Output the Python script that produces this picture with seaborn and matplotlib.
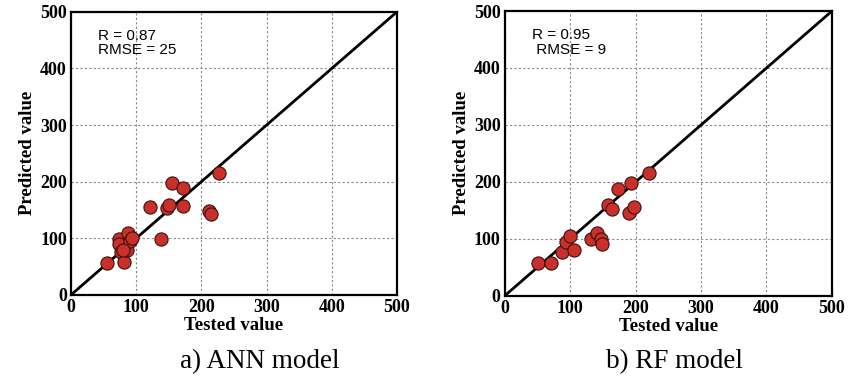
import numpy as np
import pandas as pd
import matplotlib
matplotlib.use("Agg")
import matplotlib.pyplot as plt
import seaborn as sns

# ANN model: tested vs predicted
ann_tested = [55, 73, 74, 76, 82, 86, 88, 90, 94, 80, 121, 138, 148, 150, 155, 172, 172, 211, 215, 227]
ann_pred = [57, 98, 90, 76, 58, 79, 110, 96, 101, 80, 155, 99, 153, 159, 198, 188, 157, 149, 143, 216]

# RF model
rf_tested = [50, 70, 88, 94, 99, 106, 131, 141, 147, 148, 158, 164, 173, 190, 197, 193, 220]
rf_pred = [57, 58, 76, 95, 105, 80, 99, 110, 99, 91, 159, 152, 188, 145, 156, 198, 216]

panels = [
    ("a) ANN model", "R = 0.87\nRMSE = 25", ann_tested, ann_pred),
    ("b) RF model", "R = 0.95\n RMSE = 9", rf_tested, rf_pred),
]
ticks = [0, 100, 200, 300, 400, 500]

sns.set_style("white")
plt.rcParams["font.family"] = ["Liberation Serif", "DejaVu Serif"]
plt.rcParams["text.color"] = "black"
plt.rcParams["axes.labelcolor"] = "black"
plt.rcParams["xtick.color"] = "black"
plt.rcParams["ytick.color"] = "black"

fig = plt.figure(figsize=(8.5, 3.82), dpi=100)
positions = [[0.0835, 0.228, 0.3835, 0.741], [0.594, 0.226, 0.3847, 0.745]]
caption_x = [260 / 850, 674 / 850]

for i, (caption, stats, tested, pred) in enumerate(panels):
    ax = fig.add_axes(positions[i])
    df = pd.DataFrame({"Tested value": tested, "Predicted value": pred})
    ax.plot([0, 500], [0, 500], color="black", lw=2, zorder=2)
    sns.scatterplot(data=df, x="Tested value", y="Predicted value", ax=ax,
                    s=90, color="#c9302a", edgecolor="#3a1010", linewidth=0.8, zorder=3)
    ax.set_xlim(0, 500)
    ax.set_ylim(0, 500)
    ax.set_xticks(ticks)
    ax.set_yticks(ticks)
    ax.grid(True, color="#888888", linestyle=(0, (2, 2)), linewidth=0.8)
    ax.set_axisbelow(True)
    for sp in ax.spines.values():
        sp.set_visible(True)
        sp.set_color("black")
        sp.set_linewidth(1.6)
    ax.tick_params(length=0, pad=3, labelsize=13)
    for lab in ax.get_xticklabels() + ax.get_yticklabels():
        lab.set_fontweight("bold")
    ax.set_xlabel("Tested value", fontsize=13.5, fontweight="bold", labelpad=1)
    ax.set_ylabel("Predicted value", fontsize=13.5, fontweight="bold", labelpad=3)
    ax.text(41, 470, stats, fontsize=11, family=["Liberation Sans", "DejaVu Sans"],
            va="top", ha="left", linespacing=1.05)
    fig.text(caption_x[i], 1 - 362 / 382, caption, fontsize=19.5, ha="center", va="center")

fig.savefig("out.png", dpi=100)
